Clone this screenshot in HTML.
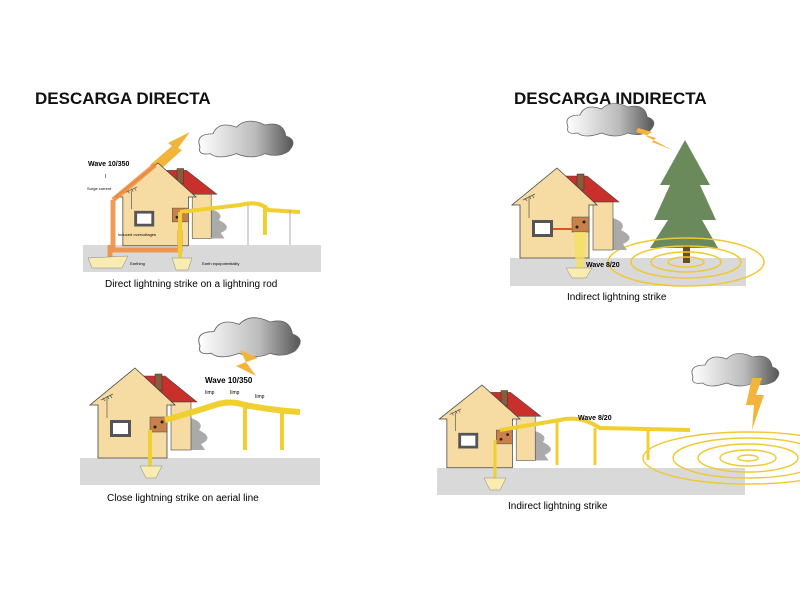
<!DOCTYPE html>
<html><head><meta charset="utf-8"><style>
html,body{margin:0;padding:0;background:#fff;}
svg{display:block;}
text{font-family:"Liberation Sans",sans-serif;}
</style></head><body>
<svg width="800" height="600" viewBox="0 0 800 600" xmlns="http://www.w3.org/2000/svg">
<defs>
<linearGradient id="cg" x1="0" x2="1"><stop offset="0" stop-color="#fff"/><stop offset="0.6" stop-color="#bbb"/><stop offset="1" stop-color="#555"/></linearGradient>
<g id="house">
  <path d="M56,82 L56,50 Q70,55 64,62 Q80,70 66,76 L70,82Z" fill="#aaa"/>
  <polygon points="8,8 30,8 62,34 36,34" fill="#c9302c" stroke="#444" stroke-width="0.6"/>
  <rect x="36" y="34" width="20" height="48" fill="#f6dba3" stroke="#444" stroke-width="0.6"/>
  <rect x="20" y="6" width="7" height="16" fill="#8a5a3a" stroke="#333" stroke-width="0.5"/>
  <polygon points="0,0 40,37 32,37 32,90 -37,90 -37,37 -45,37" fill="#f6dba3" stroke="#444" stroke-width="0.8"/>
  <rect x="-25" y="52" width="21" height="17" fill="#555"/>
  <rect x="-22" y="55" width="15" height="11" fill="#fff"/>
  <rect x="15" y="49" width="17" height="15" fill="#c8814a" stroke="#444" stroke-width="0.5"/>
  <circle cx="20" cy="59" r="1.5" fill="#222"/><circle cx="27" cy="54" r="1.5" fill="#222"/>
  <path d="M-28,30 L-28,50 M-34,32 L-22,26 M-32,30 l2,3 M-28,28 l2,3 M-25,27 l2,3" stroke="#555" stroke-width="0.7" fill="none"/>
</g>
<g id="cloud">
  <path d="M0,20 Q-4,8 10,8 Q14,-4 28,2 Q36,-8 50,0 Q64,-4 66,10 Q76,14 68,24 Q60,30 50,26 Q40,32 28,26 Q14,32 8,26 Q-2,28 0,20Z" fill="url(#cg)" stroke="#666" stroke-width="0.7"/>
</g>
</defs>

<text x="35" y="104" font-size="17" font-weight="bold" fill="#111">DESCARGA DIRECTA</text>
<text x="514" y="104" font-size="17" font-weight="bold" fill="#111">DESCARGA INDIRECTA</text>

<!-- Panel 1 -->
<rect x="83" y="245" width="238" height="27" fill="#d9d9d9"/>
<use href="#cloud" transform="translate(200,125) scale(1.3,1.1)"/>
<polygon points="150,165 172,146 168,143 190,132 178,148 182,150 160,170" fill="#f3b43a"/>
<use href="#house" transform="translate(158,163) scale(0.95,0.92)"/>
<path d="M113,200 L155,165 M113,200 L113,250 L180,250 L180,230 M110,245 L110,258" stroke="#f08a3a" stroke-width="5" fill="none" opacity="0.85"/>
<path d="M180,212 L240,205 Q260,200 268,210 L300,212" stroke="#f0d030" stroke-width="4" fill="none"/>
<path d="M180,212 L180,262 M265,205 L265,235" stroke="#f0d030" stroke-width="4" fill="none"/>
<line x1="248" y1="205" x2="248" y2="245" stroke="#999" stroke-width="0.8"/>
<line x1="290" y1="210" x2="290" y2="245" stroke="#999" stroke-width="0.8"/>
<polygon points="88,258 128,256 122,268 92,268" fill="#f8ecb0" stroke="#888" stroke-width="0.5"/>
<polygon points="172,258 192,258 188,270 176,270" fill="#f8ecb0" stroke="#888" stroke-width="0.5"/>
<text x="88" y="166" font-size="7" font-weight="bold">Wave 10/350</text>
<text x="105" y="178" font-size="5">I</text>
<text x="87" y="190" font-size="4">Surge current</text>
<text x="118" y="236" font-size="4">Induced overvoltages</text>
<text x="130" y="265" font-size="4">Earthing</text>
<text x="202" y="265" font-size="4">Earth equipotentiality</text>
<text x="105" y="287" font-size="10">Direct lightning strike on a lightning rod</text>

<!-- Panel 2 -->
<rect x="510" y="258" width="236" height="28" fill="#d9d9d9"/>
<use href="#cloud" transform="translate(568,107) scale(1.2,1.0)"/>
<polygon points="638,128 652,132 646,136 672,150 652,142 656,138 636,132" fill="#f3b43a"/>
<polygon points="685,140 710,185 700,185 716,220 702,220 718,248 650,248 668,220 654,220 670,185 660,185" fill="#6b8a5b"/>
<rect x="683" y="245" width="7" height="18" fill="#6b4a2a"/>
<g fill="none" stroke="#f0c830" stroke-width="1.5">
<ellipse cx="686" cy="262" rx="18" ry="5"/><ellipse cx="686" cy="262" rx="35" ry="10"/><ellipse cx="686" cy="262" rx="55" ry="16"/><ellipse cx="686" cy="262" rx="78" ry="24"/>
</g>
<use href="#house" transform="translate(557,168)"/>
<line x1="553" y1="229" x2="572" y2="229" stroke="#e05020" stroke-width="2"/>
<polygon points="574,232 586,232 584,270 576,270" fill="#f5e060" opacity="0.8"/>
<polygon points="566,268 592,268 586,278 572,278" fill="#f8ecb0" stroke="#888" stroke-width="0.5"/>
<text x="586" y="267" font-size="7" font-weight="bold">Wave 8/20</text>
<text x="567" y="300" font-size="10">Indirect lightning strike</text>

<!-- Panel 3 -->
<rect x="80" y="458" width="240" height="27" fill="#d9d9d9"/>
<use href="#cloud" transform="translate(200,322) scale(1.4,1.2)"/>
<polygon points="240,350 258,358 246,362 256,376 236,366 246,362" fill="#f3b43a"/>
<use href="#house" transform="translate(135,368)"/>
<path d="M165,420 Q200,410 215,405 Q230,400 245,405 Q270,410 300,412" stroke="#f0d030" stroke-width="6" fill="none"/>
<path d="M150,430 L150,470 M245,405 L245,450 M282,410 L282,450" stroke="#f0d030" stroke-width="4" fill="none"/>
<polygon points="140,466 162,466 156,478 146,478" fill="#f8ecb0" stroke="#888" stroke-width="0.5"/>
<text x="205" y="383" font-size="8" font-weight="bold">Wave 10/350</text>
<text x="205" y="394" font-size="5">Iimp</text><text x="230" y="394" font-size="5">Iimp</text><text x="255" y="398" font-size="5">Iimp</text>
<text x="107" y="501" font-size="10">Close lightning strike on aerial line</text>

<!-- Panel 4 -->
<rect x="437" y="468" width="308" height="27" fill="#d9d9d9"/>
<use href="#cloud" transform="translate(693,357) scale(1.2,1.0)"/>
<polygon points="752,378 762,378 756,395 764,395 752,430 754,405 746,405" fill="#f3b43a"/>
<g fill="none" stroke="#f0c830" stroke-width="1.4">
<ellipse cx="748" cy="458" rx="10" ry="3"/><ellipse cx="748" cy="458" rx="28" ry="8"/><ellipse cx="748" cy="458" rx="50" ry="14"/><ellipse cx="748" cy="458" rx="75" ry="20"/><ellipse cx="748" cy="458" rx="105" ry="26"/>
</g>
<use href="#house" transform="translate(482,385) scale(0.95,0.92)"/>
<path d="M500,430 Q530,425 560,420 Q580,415 600,428 L690,430" stroke="#f0d030" stroke-width="4" fill="none"/>
<path d="M557,420 L557,465 M595,428 L595,465 M648,430 L648,460 M495,440 L495,480" stroke="#f0d030" stroke-width="3" fill="none"/>
<polygon points="484,478 506,478 500,490 490,490" fill="#f8ecb0" stroke="#888" stroke-width="0.5"/>
<text x="578" y="420" font-size="7" font-weight="bold">Wave 8/20</text>
<text x="508" y="509" font-size="10">Indirect lightning strike</text>
</svg>
</body></html>
